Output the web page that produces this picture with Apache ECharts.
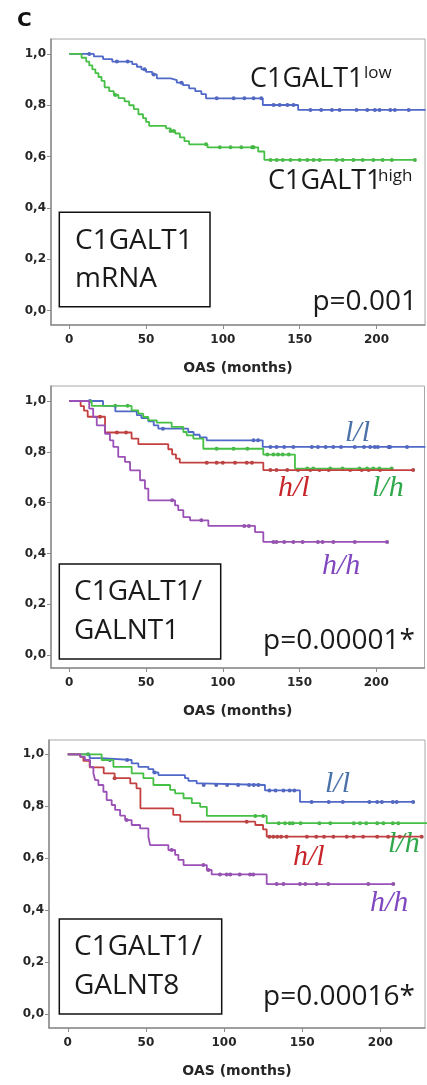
<!DOCTYPE html>
<html>
<head>
<meta charset="utf-8">
<script src="https://cdn.jsdelivr.net/npm/echarts@6/dist/echarts.min.js"></script>
<style>
  html, body { margin: 0; padding: 0; background: #fff; }
  #main { width: 427px; height: 1085px; }
</style>
</head>
<body>
<div id="main"></div>
<script>
// tick labels
const xTicks = [0, 50, 100, 150, 200];
const yTicks = [0, 0.2, 0.4, 0.6, 0.8, 1.0];

// panel 1: C1GALT1 mRNA (low / high)
const p1LowT = [0, 16, 22, 28, 41, 44, 47, 50, 54, 57, 66, 70, 74, 78, 82, 86, 89, 126, 149];
const p1LowS = [1.0, 0.99, 0.98, 0.97, 0.96, 0.95, 0.94, 0.93, 0.92, 0.905, 0.898, 0.888, 0.878, 0.866, 0.855, 0.843, 0.827, 0.801, 0.782];
const p1LowCens = [13, 31, 38, 49, 55, 73, 96, 107, 114, 120, 125, 133, 137, 142, 146, 157, 164, 171, 176, 187, 194, 199, 202, 209, 212, 221];
const p1HighT = [0, 8, 11, 13, 15, 17, 19, 21, 23, 26, 29, 32, 36, 39, 42, 45, 48, 50, 52, 63, 66, 69, 72, 75, 78, 90, 123, 127];
const p1HighS = [1.0, 0.985, 0.97, 0.955, 0.94, 0.925, 0.91, 0.895, 0.87, 0.855, 0.84, 0.828, 0.815, 0.80, 0.785, 0.765, 0.75, 0.735, 0.72, 0.71, 0.70, 0.69, 0.675, 0.66, 0.648, 0.636, 0.62, 0.587];
const p1HighCens = [30, 66, 68, 89, 98, 105, 112, 119, 120, 131, 135, 139, 144, 150, 155, 159, 163, 174, 178, 185, 191, 198, 204, 210, 225];

// panel 2: C1GALT1/GALNT1 (l/l, l/h, h/l, h/h)
const p2LLT = [0, 22, 30, 44, 47, 51.5, 55, 58, 77.5, 81, 85, 89.5, 126];
const p2LLS = [1.0, 0.981, 0.959, 0.944, 0.933, 0.92, 0.904, 0.891, 0.878, 0.867, 0.857, 0.845, 0.819];
const p2LLCens = [13.5, 61, 120, 123, 131, 135, 140, 146, 158, 162, 167, 172, 177, 186, 192, 196, 199, 201, 208, 209, 220];
const p2LHT = [0, 14.6, 40.6, 45, 48.2, 51.5, 57, 66.7, 74.3, 76.5, 80.8, 87.3, 126.4, 147];
const p2LHS = [1.0, 0.981, 0.963, 0.95, 0.937, 0.924, 0.915, 0.898, 0.878, 0.865, 0.852, 0.812, 0.789, 0.734];
const p2LHCens = [30, 38, 96, 107, 116, 129, 133, 136, 139, 143, 155, 159, 170, 178, 189, 194, 198, 202, 210];
const p2HLT = [0, 7.4, 9.6, 12, 23.3, 40.6, 45, 64.5, 67, 69.5, 72, 126.4];
const p2HLS = [1.0, 0.98, 0.962, 0.938, 0.876, 0.852, 0.83, 0.81, 0.79, 0.773, 0.757, 0.728];
const p2HLCens = [20, 31, 37, 89.5, 96, 100, 108, 115.6, 119, 131, 135, 142, 149, 157, 163, 169, 183, 190.5, 195, 202.5, 224];
const p2HHT = [0, 13, 15.6, 17.9, 23.3, 26.5, 28.7, 31.9, 36.3, 39.6, 46.1, 49.3, 51.5, 68.9, 71, 74.3, 78.7, 90.6, 121, 126.4];
const p2HHS = [1.0, 0.97, 0.937, 0.904, 0.871, 0.845, 0.819, 0.78, 0.76, 0.727, 0.688, 0.655, 0.609, 0.589, 0.57, 0.543, 0.53, 0.508, 0.484, 0.445];
const p2HHCens = [67, 86, 114, 117, 133, 135, 140, 146, 152, 162, 165, 172, 186, 207];

// panel 3: C1GALT1/GALNT8
const p3LLT = [0, 14, 21.7, 40.9, 45.2, 51.6, 54.8, 58, 75, 77.2, 82.5, 85.7, 126.2, 148.6];
const p3LLS = [1.0, 0.985, 0.978, 0.965, 0.952, 0.943, 0.93, 0.92, 0.908, 0.898, 0.888, 0.882, 0.861, 0.817];
const p3LLCens = [27, 38, 55.5, 87, 95, 102, 109, 116, 119, 122, 129, 133, 138, 142, 145, 156, 167, 176, 193, 198, 201, 208, 210.5, 221];
const p3LHT = [0, 21.7, 29.2, 40.9, 48.4, 54.8, 65.5, 68.7, 74.1, 79.4, 84.7, 89, 127.3];
const p3LHS = [1.0, 0.978, 0.952, 0.927, 0.908, 0.882, 0.863, 0.85, 0.831, 0.812, 0.798, 0.763, 0.735];
const p3LHCens = [13, 120, 125, 135, 139, 142, 144, 149, 161, 168, 183, 187, 191, 198, 202, 208, 211.5];
const p3HLT = [0, 8, 10, 14, 23, 30, 40, 44, 46.5, 67.5, 72, 120, 125, 127.3];
const p3HLS = [1.0, 0.99, 0.975, 0.95, 0.927, 0.908, 0.888, 0.869, 0.792, 0.767, 0.741, 0.728, 0.711, 0.683];
const p3HLCens = [30, 114.5, 129, 131.5, 134, 136.5, 140, 153, 159, 164, 170, 178.5, 183, 189, 198, 205, 212.5, 226.5];
const p3HHT = [0, 8.1, 11, 14.3, 16.4, 17.5, 19.6, 22.8, 24.9, 28.1, 30.3, 33.5, 36.7, 40.9, 46.3, 51.6, 52.7, 64.4, 68.7, 70.8, 74.1, 89, 92.1, 127.3];
const p3HHS = [1.0, 0.99, 0.978, 0.952, 0.927, 0.901, 0.882, 0.856, 0.824, 0.805, 0.786, 0.764, 0.747, 0.728, 0.715, 0.683, 0.651, 0.632, 0.613, 0.594, 0.574, 0.555, 0.538, 0.501];
const p3HHCens = [37.7, 66.5, 86.8, 90, 97.4, 101.7, 104, 110, 116.6, 118.7, 133.7, 138, 148.6, 152, 159.3, 166.7, 192.3, 208.3];

const BLUE = '#5068c8', GREEN = '#45c045', RED = '#c44040', PURPLE = '#9a50b6';
const BLUE_D = '#2b40a3', GREEN_D = '#1f9a1f', RED_D = '#9a1a1a', PURPLE_D = '#6a2a8a';

const chart = echarts.init(document.getElementById('main'));

// survival value at time t (step function)
function survAt(T, S, t) {
  let v = S[0];
  for (let i = 0; i < T.length; i++) if (T[i] <= t) v = S[i];
  return v;
}

function curve(idx, T, S, end, cens, color, dot) {
  const line = T.map((t, i) => [t, S[i]]);
  line.push([end, S[S.length - 1]]);
  return [
    {
      type: 'line', xAxisIndex: idx, yAxisIndex: idx, step: 'end',
      data: line, symbol: 'none', silent: true,
      lineStyle: { color: color, width: 1.8 }
    },
    {
      type: 'scatter', xAxisIndex: idx, yAxisIndex: idx,
      data: cens.map(c => [c, survAt(T, S, c)]),
      symbolSize: 4, itemStyle: { color: dot }, silent: true
    }
  ];
}

const axisGray = '#8c8c8c';
function xAx(idx, min, max) {
  return {
    type: 'value', gridIndex: idx, min: min, max: max,
    axisLine: { show: true, onZero: false, lineStyle: { color: axisGray, width: 1.5 } },
    axisTick: { show: true, customValues: xTicks, length: 4, lineStyle: { color: axisGray } },
    axisLabel: {
      customValues: xTicks, margin: 9,
      fontFamily: 'DejaVu Sans', fontWeight: 'bold', fontSize: 12, color: '#262626'
    },
    splitLine: { show: false },
    name: 'OAS (months)', nameLocation: 'middle', nameGap: 36,
    nameTextStyle: { fontFamily: 'DejaVu Sans', fontWeight: 'bold', fontSize: 14, color: '#262626' }
  };
}
function yAx(idx, min, max) {
  return {
    type: 'value', gridIndex: idx, min: min, max: max,
    axisLine: { show: true, onZero: false, lineStyle: { color: axisGray, width: 1.5 } },
    axisTick: { show: true, customValues: yTicks, length: 4, lineStyle: { color: axisGray } },
    axisLabel: {
      customValues: yTicks, margin: 5,
      formatter: v => v.toFixed(1).replace('.', ','),
      fontFamily: 'DejaVu Sans', fontWeight: 'bold', fontSize: 12, color: '#262626'
    },
    splitLine: { show: false }
  };
}

function txt(x, y, s, size, color, opts) {
  return {
    type: 'text', x: x, y: y, silent: true,
    style: Object.assign({
      text: s, fontFamily: 'Open Sans', fontSize: size, fill: color,
      align: 'left', verticalAlign: 'middle'
    }, opts || {})
  };
}
function grp(x, y, s, color) {
  return txt(x, y, s, 30, color, { fontFamily: 'Liberation Serif', fontStyle: 'italic' });
}
function box(x, y, w, h) {
  return {
    type: 'rect', silent: true, shape: { x: x, y: y, width: w, height: h },
    style: { fill: '#fff', stroke: '#111', lineWidth: 1.5 }
  };
}

const gridStyle = { show: true, borderColor: '#a8a8a8', borderWidth: 1, backgroundColor: '#fff' };

const option = {
  animation: false,
  grid: [
    Object.assign({ left: 51, top: 39, width: 374, height: 286 }, gridStyle),
    Object.assign({ left: 51, top: 386, width: 373.5, height: 282 }, gridStyle),
    Object.assign({ left: 49, top: 740, width: 376, height: 288 }, gridStyle)
  ],
  xAxis: [xAx(0, -11.9, 231.6), xAx(1, -11.9, 231.4), xAx(2, -12.0, 228.6)],
  yAxis: [yAx(0, -0.0557, 1.058), yAx(1, -0.0512, 1.059), yAx(2, -0.0527, 1.055)],
  series: [].concat(
    curve(0, p1LowT, p1LowS, 232, p1LowCens, BLUE, BLUE_D),
    curve(0, p1HighT, p1HighS, 225, p1HighCens, GREEN, GREEN_D),
    curve(1, p2LLT, p2LLS, 232, p2LLCens, BLUE, BLUE_D),
    curve(1, p2LHT, p2LHS, 210, p2LHCens, GREEN, GREEN_D),
    curve(1, p2HLT, p2HLS, 224, p2HLCens, RED, RED_D),
    curve(1, p2HHT, p2HHS, 207, p2HHCens, PURPLE, PURPLE_D),
    curve(2, p3LLT, p3LLS, 221, p3LLCens, BLUE, BLUE_D),
    curve(2, p3LHT, p3LHS, 230, p3LHCens, GREEN, GREEN_D),
    curve(2, p3HLT, p3HLS, 226.5, p3HLCens, RED, RED_D),
    curve(2, p3HHT, p3HHS, 208.3, p3HHCens, PURPLE, PURPLE_D)
  ),
  graphic: [
    txt(17, 21, 'C', 20, '#111', { fontFamily: 'DejaVu Sans', fontWeight: 'bold' }),

    // panel 1
    txt(250, 79, 'C1GALT1', 27, '#1a1a1a'),
    txt(364, 73, 'low', 17, '#1a1a1a'),
    txt(268, 181, 'C1GALT1', 27, '#1a1a1a'),
    txt(378, 176, 'high', 17, '#1a1a1a'),
    box(59.3, 212.3, 150.7, 94.4),
    txt(75, 241, 'C1GALT1', 28, '#1a1a1a'),
    txt(75, 279, 'mRNA', 28, '#1a1a1a'),
    txt(417, 302.5, 'p=0.001', 28, '#1a1a1a', { align: 'right' }),

    // panel 2
    grp(345, 433, 'l/l', '#4a72a8'),
    grp(278, 488, 'h/l', '#c8262a'),
    grp(372, 488, 'l/h', '#2fa84a'),
    grp(322, 566, 'h/h', '#8047c0'),
    box(59.3, 564, 161.4, 95),
    txt(74, 592.5, 'C1GALT1/', 28, '#1a1a1a'),
    txt(74, 631.5, 'GALNT1', 28, '#1a1a1a'),
    txt(415, 641, 'p=0.00001*', 28, '#1a1a1a', { align: 'right' }),

    // panel 3
    grp(325, 784, 'l/l', '#4a72a8'),
    grp(388, 844, 'l/h', '#2fa84a'),
    grp(293, 857, 'h/l', '#c8262a'),
    grp(370, 903, 'h/h', '#8047c0'),
    box(59.3, 919, 162.4, 95),
    txt(74, 947, 'C1GALT1/', 28, '#1a1a1a'),
    txt(74, 986, 'GALNT8', 28, '#1a1a1a'),
    txt(415, 997.5, 'p=0.00016*', 28, '#1a1a1a', { align: 'right' })
  ]
};

chart.setOption(option);
</script>
</body>
</html>
